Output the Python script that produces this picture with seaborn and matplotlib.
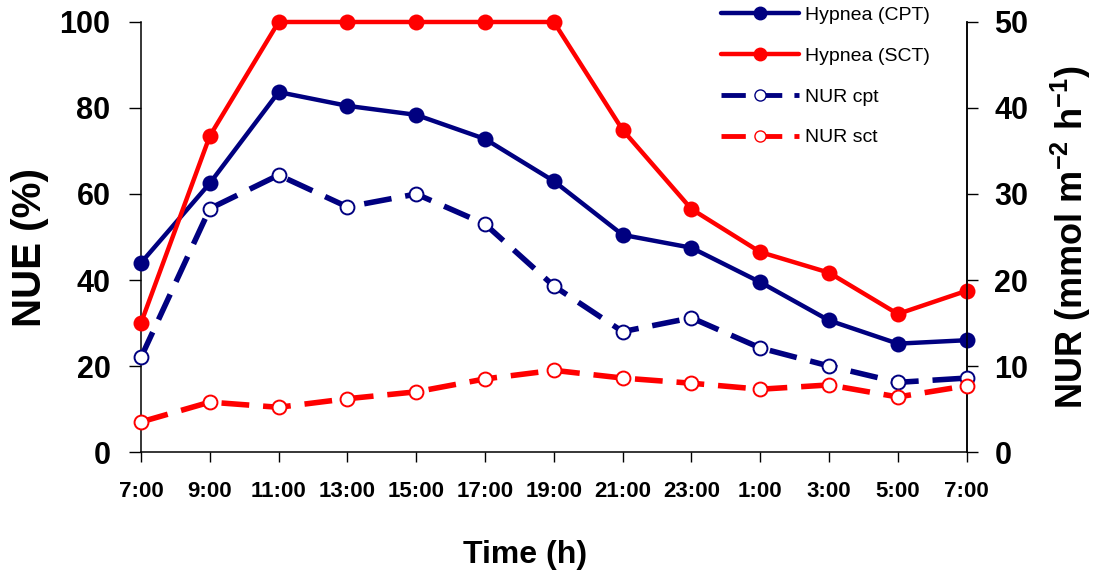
import numpy as np
import pandas as pd
import seaborn as sns
import matplotlib.pyplot as plt
from matplotlib.lines import Line2D

# Données
time_labels = ["7:00", "9:00", "11:00", "13:00", "15:00", "17:00", "19:00",
               "21:00", "23:00", "1:00", "3:00", "5:00", "7:00"]
nue_cpt = [44.0, 62.5, 83.7, 80.5, 78.4, 72.8, 63.0, 50.5, 47.5, 39.5, 30.6, 25.2, 26.0]
nue_sct = [30.0, 73.5, 100, 100, 100, 100, 100, 74.9, 56.5, 46.5, 41.7, 32.1, 37.5]
nur_cpt = [11.0, 28.3, 32.2, 28.5, 30.0, 26.5, 19.3, 14.0, 15.6, 12.1, 10.0, 8.1, 8.6]
nur_sct = [3.5, 5.8, 5.2, 6.2, 7.0, 8.5, 9.5, 8.6, 8.0, 7.3, 7.8, 6.4, 7.7]

navy = "#000080"
red = "#FF0000"

sns.set_style("ticks")
plt.rcParams["font.family"] = ["Liberation Sans", "DejaVu Sans"]
plt.rcParams["mathtext.fontset"] = "custom"
plt.rcParams["mathtext.rm"] = "Liberation Sans:bold"
plt.rcParams["mathtext.bf"] = "Liberation Sans:bold"
for k in ("text.color", "axes.labelcolor", "xtick.color", "ytick.color"):
    plt.rcParams[k] = "black"

df = pd.DataFrame({
    "pos": np.arange(len(time_labels)),
    "nue_cpt": nue_cpt, "nue_sct": nue_sct,
    "nur_cpt": nur_cpt, "nur_sct": nur_sct,
})

fig = plt.figure(figsize=(11.06, 5.77), dpi=100)
ax = fig.add_axes([0.1275, 0.2166, 0.7465, 0.7453])
ax2 = ax.twinx()

# NUE (axe gauche)
sns.lineplot(data=df, x="pos", y="nue_cpt", ax=ax, color=navy, lw=3.2,
             marker="o", markersize=11.5, markeredgewidth=0, clip_on=False, zorder=4)
sns.lineplot(data=df, x="pos", y="nue_sct", ax=ax, color=red, lw=3.2,
             marker="o", markersize=11.5, markeredgewidth=0, clip_on=False, zorder=4)

# NUR (axe droit)
sns.lineplot(data=df, x="pos", y="nur_cpt", ax=ax2, color=navy, lw=4,
             marker="o", markersize=10, markerfacecolor="white", markeredgecolor=navy,
             markeredgewidth=1.4, dashes=False, clip_on=False, zorder=3)
sns.lineplot(data=df, x="pos", y="nur_sct", ax=ax2, color=red, lw=4,
             marker="o", markersize=10, markerfacecolor="white", markeredgecolor=red,
             markeredgewidth=1.4, dashes=False, clip_on=False, zorder=3)
ax2.lines[0].set_dashes((5, 2.5))
ax2.lines[1].set_dashes((5, 2.5))

ax.set_xlim(0, len(time_labels) - 1)
ax.set_ylim(0, 100)
ax2.set_ylim(0, 50)
ax.set_xticks(df["pos"])
ax.set_xticklabels(time_labels)
ax.set_yticks(range(0, 101, 20))
ax2.set_yticks(range(0, 51, 10))

bold = dict(fontweight="bold")
ax.tick_params(axis="x", direction="out", length=7, width=1, pad=14, labelsize=16)
ax.tick_params(axis="y", direction="out", length=9, width=1, pad=13, labelsize=22)
ax2.tick_params(axis="y", direction="out", length=8, width=1, pad=12, labelsize=22)
for lab in ax.get_xticklabels() + ax.get_yticklabels() + ax2.get_yticklabels():
    lab.set_fontweight("bold")

ax.set_xlabel("Time (h)", fontsize=23, **bold)
ax.xaxis.set_label_coords(0.465, -0.205)
ax.set_ylabel("NUE (%)", fontsize=29, **bold)
ax.yaxis.set_label_coords(-0.112, 0.475)
ax2.set_ylabel("NUR (mmol m$^{\\mathbf{-2}}$ h$^{\\mathbf{-1}}$)", fontsize=26, **bold)
ax2.yaxis.set_label_coords(1.1, 0.5)

for a in (ax, ax2):
    a.spines["top"].set_visible(False)
    for s in ("left", "bottom", "right"):
        a.spines[s].set_linewidth(1.1)
        a.spines[s].set_color("black")
ax2.spines["left"].set_visible(False)
ax2.spines["bottom"].set_visible(False)

# Légende
handles = [
    Line2D([], [], color=navy, lw=3.2, marker="o", markersize=9),
    Line2D([], [], color=red, lw=3.2, marker="o", markersize=9),
    Line2D([], [], color=navy, lw=3.5, marker="o", markersize=8, markerfacecolor="white",
           markeredgecolor=navy, dashes=(5, 2.5)),
    Line2D([], [], color=red, lw=3.5, marker="o", markersize=8, markerfacecolor="white",
           markeredgecolor=red, dashes=(5, 2.5)),
]
labels = ["Hypnea (CPT)", "Hypnea (SCT)", "NUR cpt", "NUR sct"]
fig.legend(handles, labels, loc="upper left", bbox_to_anchor=(0.645, 1.003),
           frameon=False, fontsize=14, handlelength=4.0, handletextpad=0.3,
           labelspacing=1.2, borderaxespad=0)

fig.savefig("out.png", dpi=100)
